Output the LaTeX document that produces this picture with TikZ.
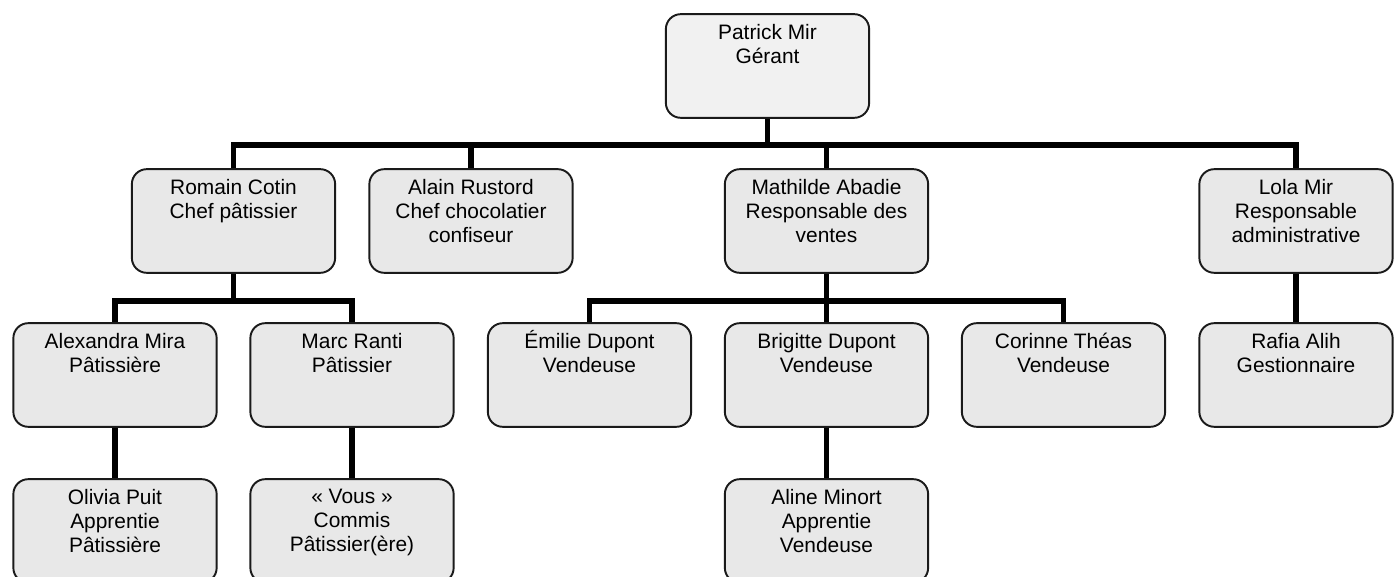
\documentclass[tikz,border=0pt]{standalone}
\usepackage{fontspec}
\setmainfont{Liberation Sans}
\definecolor{fondposte}{HTML}{E8E8E8}
\definecolor{fondgerant}{HTML}{F1F1F1}
\definecolor{bord}{HTML}{1A1A1A}
% texte d'une case, aligne en haut
\newcommand{\poste}[2][115.7pt]{\parbox[c][59pt][t]{#1}{\centering\fontsize{11.9}{13.6}\selectfont\vspace*{5.8pt}#2}}
\tikzset{
  case/.style={draw=bord, line width=1.1pt, fill=fondposte, rounded corners=8.5pt, inner sep=0pt},
  lien/.style={line width=3.1pt, black}
}
\begin{document}
\begin{tikzpicture}[x=0.02cm, y=-0.02cm]
            \useasboundingbox (0,0) rectangle (1394,577);
            \clip (0,0) rectangle (1394,577);
            \node[case, fill=fondgerant] (patrick) at (767.5, 66) {\poste{Patrick Mir\\Gérant}};
            % niveau 1
            \node[case] (romain) at (233.5, 221) {\poste{Romain Cotin\\Chef pâtissier}};
            \node[case] (alain) at (471, 221) {\poste{Alain Rustord\\Chef chocolatier\\confiseur}};
            \node[case] (mathilde) at (826.5, 221) {\poste{Mathilde Abadie\\Responsable des\\ventes}};
            \node[case] (lola) at (1296, 221) {\poste[110pt]{Lola Mir\\Responsable\\administrative}};
            % niveau 2
            \node[case] (alexandra) at (115, 375) {\poste{Alexandra Mira\\Pâtissière}};
            \node[case] (marc) at (352, 375) {\poste{Marc Ranti\\Pâtissier}};
            \node[case] (emilie) at (589.5, 375) {\poste{\smash{É}milie Dupont\\Vendeuse}};
            \node[case] (brigitte) at (826.5, 375) {\poste{Brigitte Dupont\\Vendeuse}};
            \node[case] (corinne) at (1063.5, 375) {\poste{Corinne Théas\\Vendeuse}};
            \node[case] (rafia) at (1296, 375) {\poste[110pt]{Rafia Alih\\Gestionnaire}};
            % niveau 3
            \node[case] (olivia) at (115, 531) {\poste{Olivia Puit\\Apprentie\\Pâtissière}};
            \node[case] (vous) at (352, 531) {\poste{« Vous »\\Commis\\Pâtissier(ère)}};
            \node[case] (aline) at (826.5, 531) {\poste{Aline Minort\\Apprentie\\Vendeuse}};
            % liaisons
            \coordinate (b0) at (767.5, 145);
            \coordinate (b1) at (233.5, 301);
            \coordinate (b2) at (826.5, 301);
            \draw[lien] (patrick.south) -- (b0);
            \draw[lien] (romain.north) |- (b0) -| (lola.north);
            \draw[lien] (alain.north) -- (alain.north |- b0);
            \draw[lien] (mathilde.north) -- (mathilde.north |- b0);
            \draw[lien] (romain.south) -- (b1);
            \draw[lien] (alexandra.north) |- (b1) -| (marc.north);
            \draw[lien] (mathilde.south) -- (b2);
            \draw[lien] (emilie.north) |- (b2) -| (corinne.north);
            \draw[lien] (brigitte.north) -- (b2);
            \draw[lien] (lola.south) -- (rafia.north);
            \draw[lien] (alexandra.south) -- (olivia.north);
            \draw[lien] (marc.south) -- (vous.north);
            \draw[lien] (brigitte.south) -- (aline.north);
\end{tikzpicture}
\end{document}
